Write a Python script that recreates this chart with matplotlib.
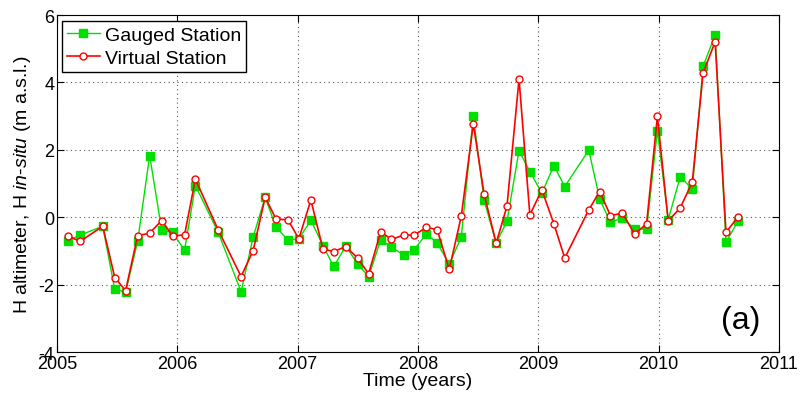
import matplotlib.pyplot as plt

plt.rcParams['font.family'] = ['Liberation Sans', 'DejaVu Sans']
plt.rcParams['axes.unicode_minus'] = False
plt.rcParams['mathtext.fontset'] = 'custom'
plt.rcParams['mathtext.it'] = 'Liberation Sans:italic'
plt.rcParams['mathtext.rm'] = 'Liberation Sans'

# decimal years of each sample (same dates for both series)
years = [2005.09, 2005.19, 2005.38, 2005.48, 2005.57, 2005.67, 2005.77, 2005.87, 2005.96,
         2006.06, 2006.15, 2006.34, 2006.53, 2006.63, 2006.73, 2006.82, 2006.92,
         2007.01, 2007.11, 2007.21, 2007.30, 2007.40, 2007.50, 2007.59, 2007.69, 2007.78,
         2007.88, 2007.97, 2008.07, 2008.16, 2008.26, 2008.36, 2008.46, 2008.55, 2008.65,
         2008.74, 2008.84, 2008.93, 2009.03, 2009.13, 2009.22, 2009.42, 2009.51, 2009.60,
         2009.70, 2009.80, 2009.90, 2009.99, 2010.08, 2010.18, 2010.28, 2010.37, 2010.47,
         2010.56, 2010.66]

gauged = [-0.71, -0.53, -0.27, -2.14, -2.22, -0.72, 1.83, -0.38, -0.45,
          -0.98, 0.94, -0.45, -2.21, -0.59, 0.59, -0.29, -0.68,
          -0.64, -0.09, -0.84, -1.46, -0.86, -1.39, -1.76, -0.67, -0.89,
          -1.12, -0.96, -0.49, -0.77, -1.39, -0.59, 2.99, 0.50, -0.77,
          -0.12, 1.98, 1.35, 0.72, 1.53, 0.91, 1.99, 0.54, -0.15,
          -0.02, -0.35, -0.35, 2.57, -0.07, 1.20, 0.84, 4.48, 5.41,
          -0.74, -0.12]

virtual = [-0.55, -0.72, -0.27, -1.79, -2.18, -0.55, -0.47, -0.10, -0.55,
           -0.53, 1.13, -0.38, -1.76, -0.99, 0.59, -0.05, -0.08,
           -0.64, 0.51, -0.94, -1.02, -0.87, -1.22, -1.68, -0.43, -0.66,
           -0.53, -0.53, -0.30, -0.37, -1.55, 0.03, 2.77, 0.68, -0.77,
           0.33, 4.10, 0.07, 0.81, -0.20, -1.21, 0.22, 0.76, 0.05,
           0.12, -0.50, -0.20, 2.99, -0.11, 0.28, 1.04, 4.28, 5.21,
           -0.45, 0.01]

fig = plt.figure(figsize=(8.03, 4.06), dpi=100)
ax = fig.add_axes([0.071, 0.1305, 0.899, 0.830])

ax.plot(years, gauged, color='#00e000', linewidth=1.0, marker='s', markersize=6,
        markerfacecolor='#00e000', markeredgecolor='#00e000', label='Gauged Station')
ax.plot(years, virtual, color='red', linewidth=1.2, marker='o', markersize=5,
        markerfacecolor='white', markeredgecolor='red', markeredgewidth=1.0,
        label='Virtual Station')

ax.set_xlim(2005, 2011)
ax.set_ylim(-4, 6)
ax.set_xticks(range(2005, 2012))
ax.set_yticks(range(-4, 7, 2))
ax.tick_params(direction='in', top=True, right=True, labelsize=13, length=5, pad=2)
ax.grid(True, linestyle=(0, (1, 3)), color='#555555', linewidth=0.8)

ax.set_xlabel('Time (years)', fontsize=14, labelpad=0)
ax.set_ylabel('H altimeter, H $\\mathit{in}$-$\\mathit{situ}$ (m a.s.l.)', fontsize=14, labelpad=4)

ax.legend(loc='upper left', bbox_to_anchor=(0.007, 0.982), borderaxespad=0,
          fontsize=14, fancybox=False, edgecolor='black', framealpha=1,
          borderpad=0.25, handlelength=1.7, handletextpad=0.25, labelspacing=0.3)

ax.text(0.975, 0.05, '(a)', transform=ax.transAxes, fontsize=23, ha='right', va='bottom')

fig.savefig('out.png', dpi=100)
